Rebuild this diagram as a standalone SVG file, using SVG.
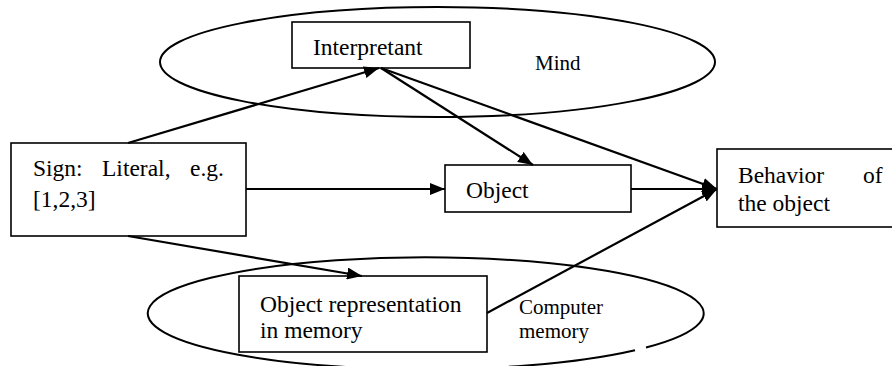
<svg xmlns="http://www.w3.org/2000/svg" width="892" height="366" viewBox="0 0 892 366">
<style>
.box{fill:#fff;stroke:#000;stroke-width:1.6}
.ell{fill:none;stroke:#000;stroke-width:2}
.t{font-family:"Liberation Serif","Times New Roman",serif;font-size:23.5px;fill:#000}
.s{font-family:"Liberation Serif","Times New Roman",serif;font-size:21px;fill:#000}
.c{stroke:#000;stroke-width:2.2;fill:none;marker-end:url(#ah)}
</style>
<defs>
<marker id="ah" markerUnits="userSpaceOnUse" markerWidth="16" markerHeight="12" refX="15" refY="6" orient="auto">
<path d="M0,0 L15,6 L0,12 z" fill="#000"/>
</marker>
</defs>
<rect width="892" height="366" fill="#fff"/>
<g id="mind">
<ellipse class="ell" cx="437.5" cy="62" rx="277.5" ry="55"/>
<text class="s" x="535" y="70">Mind</text>
</g>
<g id="computer-memory">
<path class="ell" d="M 646 347.5 A 278 56 0 1 0 635 350.2"/>
<text class="s" x="519" y="314">Computer</text>
<text class="s" x="519" y="338">memory</text>
</g>
<g id="interpretant">
<rect class="box" x="292" y="22" width="178" height="46"/>
<text class="t" x="313" y="55">Interpretant</text>
</g>
<g id="sign">
<rect class="box" x="11" y="143" width="235" height="93"/>
<text class="t" x="33" y="176">Sign:</text>
<text class="t" x="102" y="176">Literal,</text>
<text class="t" x="224" y="176" text-anchor="end">e.g.</text>
<text class="t" x="33" y="207">[1,2,3]</text>
</g>
<g id="object">
<rect class="box" x="445" y="165" width="186" height="47"/>
<text class="t" x="466" y="198">Object</text>
</g>
<g id="behavior">
<rect class="box" x="717" y="149" width="200" height="78"/>
<text class="t" x="738" y="183">Behavior</text>
<text class="t" x="863" y="183">of</text>
<text class="t" x="738" y="211">the object</text>
</g>
<g id="object-representation">
<rect class="box" x="239" y="276" width="248" height="76"/>
<text class="t" x="260" y="312">Object representation</text>
<text class="t" x="260" y="338">in memory</text>
</g>
<g id="connectors">
<line class="c" x1="128" y1="143" x2="379" y2="68"/>
<line class="c" x1="381" y1="68" x2="533" y2="165"/>
<line class="c" x1="381" y1="68" x2="717" y2="189"/>
<line class="c" x1="246" y1="189" x2="445" y2="189"/>
<line class="c" x1="631" y1="189" x2="717" y2="189"/>
<line class="c" x1="128" y1="236" x2="362" y2="276"/>
<line class="c" x1="487" y1="313" x2="717" y2="189"/>
</g>
</svg>
